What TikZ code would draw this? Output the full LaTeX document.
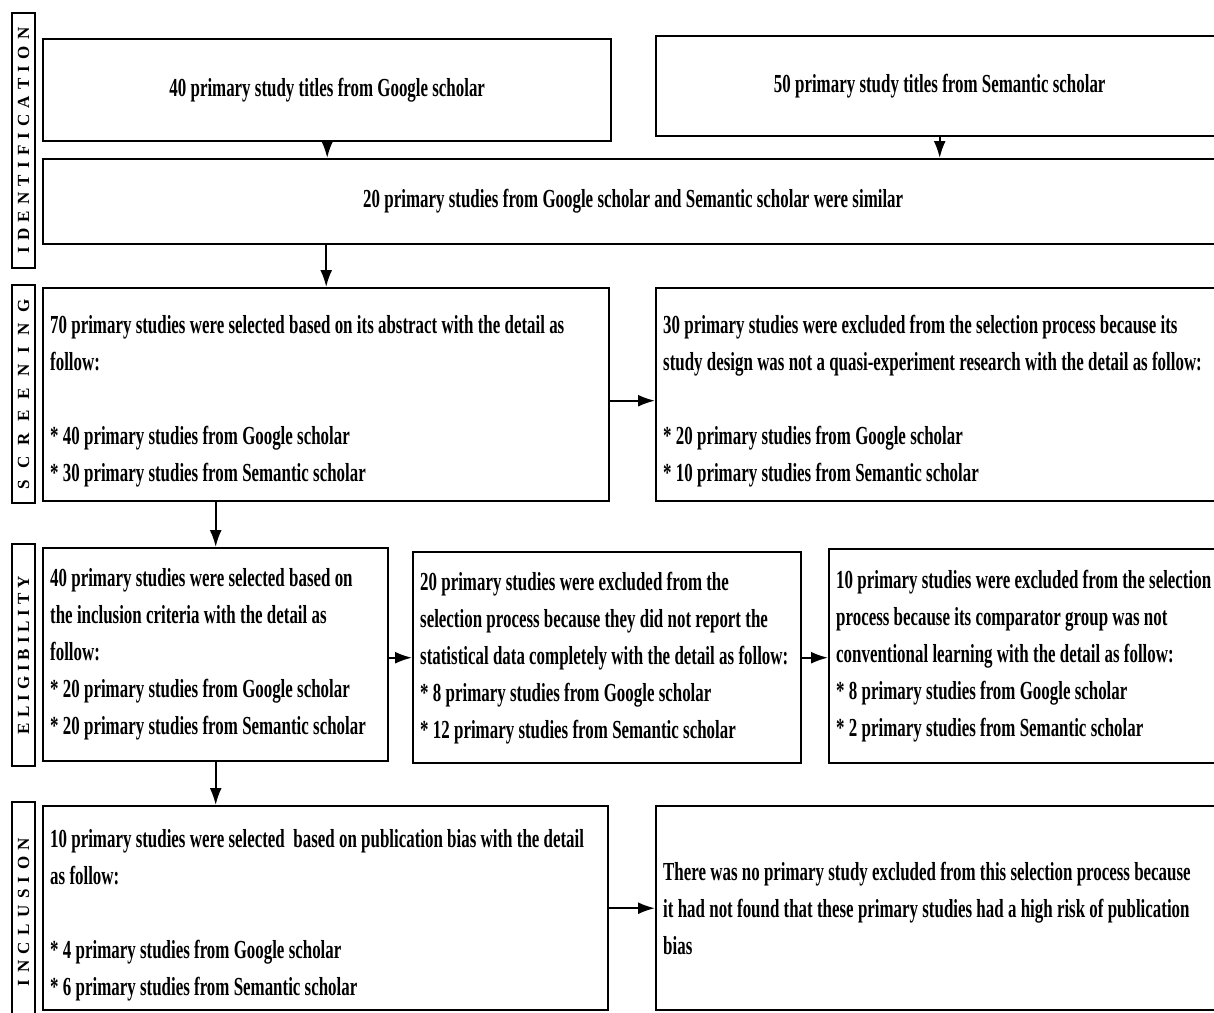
\documentclass[tikz,border=0pt]{standalone}
\usepackage{fontspec}
\setmainfont{Liberation Serif}[FakeStretch=0.65]
\newfontfamily\labfont{Liberation Serif}
\usetikzlibrary{arrows.meta}
\newcommand{\spreadlab}[2]{\makebox[#1]{#2}}
\newcommand{\tightspaces}{\spaceskip=4.3pt minus 1pt\relax\xspaceskip=4.3pt minus 1pt\relax\hyphenpenalty=10000\relax}
\newcommand{\topgap}{\rule{0pt}{32pt}}
\begin{document}
\begin{tikzpicture}[x=1pt,y=-1pt,
  box/.style={draw,line width=2.4pt,rectangle,inner xsep=7pt,inner ysep=0pt,
    anchor=north west,font=\fontsize{26}{37}\selectfont\bfseries,
    execute at begin node=\tightspaces},
  lbox/.style={box,align=left},
  cbox/.style={box,align=center},
  labbox/.style={draw,line width=2pt,rectangle,inner sep=0pt,rotate=90,
    minimum height=23pt,font=\labfont\fontsize{17}{17}\selectfont\bfseries},
  arr/.style={line width=2pt,-{Latex[length=17pt,width=12pt]}}]
\useasboundingbox[fill=white] (0,0) rectangle (1214,1012);
% stage labels
\node[labbox,minimum width=255pt] (L1) at (23.5,140.5)
  {\spreadlab{226pt}{I\hfill D\hfill E\hfill N\hfill T\hfill I\hfill F\hfill I\hfill C\hfill A\hfill T\hfill I\hfill O\hfill N}};
\node[labbox,minimum width=218pt] (L2) at (23.5,394)
  {\spreadlab{190pt}{S\hfill C\hfill R\hfill E\hfill E\hfill N\hfill I\hfill N\hfill G}};
\node[labbox,minimum width=222pt] (L3) at (23.5,655)
  {\spreadlab{158pt}{E\hfill L\hfill I\hfill G\hfill I\hfill B\hfill I\hfill L\hfill I\hfill T\hfill Y}};
\node[labbox,minimum width=220pt] (L4) at (23.5,912)
  {\spreadlab{148pt}{I\hfill N\hfill C\hfill L\hfill U\hfill S\hfill I\hfill O\hfill N}};
% boxes
\node[cbox,text width=554pt,minimum height=102pt] (A) at (42,38)
  {40 primary study titles from Google scholar};
\node[cbox,text width=553pt,minimum height=100pt] (B) at (655,35)
  {50 primary study titles from Semantic scholar};
\node[cbox,text width=1166pt,minimum height=85pt] (C) at (42,158)
  {20 primary studies from Google scholar and Semantic scholar were similar};
\node[lbox,text width=552pt,minimum height=213pt] (D) at (42,287)
  {\topgap 70 primary studies were selected based on its abstract with the detail as\\
   follow:\\[37pt]
   {}* 40 primary studies from Google scholar\\
   {}* 30 primary studies from Semantic scholar};
\node[lbox,text width=560pt,minimum height=213pt] (E) at (655,287)
  {\topgap 30 primary studies were excluded from the selection process because its\\
   study design was not a quasi-experiment research with the detail as follow:\\[37pt]
   {}* 20 primary studies from Google scholar\\
   {}* 10 primary studies from Semantic scholar};
\node[lbox,text width=331pt,minimum height=213pt] (F) at (42,547)
  {40 primary studies were selected based on\\
   the inclusion criteria with the detail as\\
   follow:\\
   {}* 20 primary studies from Google scholar\\
   {}* 20 primary studies from Semantic scholar};
\node[lbox,text width=374pt,minimum height=211pt] (G) at (412,551)
  {20 primary studies were excluded from the\\
   selection process because they did not report the\\
   statistical data completely with the detail as follow:\\
   {}* 8 primary studies from Google scholar\\
   {}* 12 primary studies from Semantic scholar};
\node[lbox,text width=386pt,minimum height=214pt] (H) at (828,548)
  {10 primary studies were excluded from the selection\\
   process because its comparator group was not\\
   conventional learning with the detail as follow:\\
   {}* 8 primary studies from Google scholar\\
   {}* 2 primary studies from Semantic scholar};
\node[lbox,text width=551pt,minimum height=204pt] (I) at (42,805)
  {\topgap 10 primary studies were selected\ \ based on publication bias with the detail\\
   as follow:\\[37pt]
   {}* 4 primary studies from Google scholar\\
   {}* 6 primary studies from Semantic scholar};
\node[lbox,text width=560pt,minimum height=204pt] (J) at (655,805)
  {There was no primary study excluded from this selection process because\\
   it had not found that these primary studies had a high risk of publication\\
   bias};
% connectors
\draw[arr] (A.south) -- (A.south |- C.north);
\draw[arr] (B.south) -- (B.south |- C.north);
\draw[arr] (D.north |- C.south) -- (D.north);
\draw[arr] ([yshift=-6pt]D.east) -- ([yshift=-6pt]D.east -| E.west);
\draw[arr] (F.north |- D.south) -- (F.north);
\draw[arr] (G.west -| F.east) -- (G.west);
\draw[arr] (G.east) -- (G.east -| H.west);
\draw[arr] (F.south) -- (F.south |- I.north);
\draw[arr] (I.east) -- (I.east -| J.west);
\end{tikzpicture}
\end{document}
